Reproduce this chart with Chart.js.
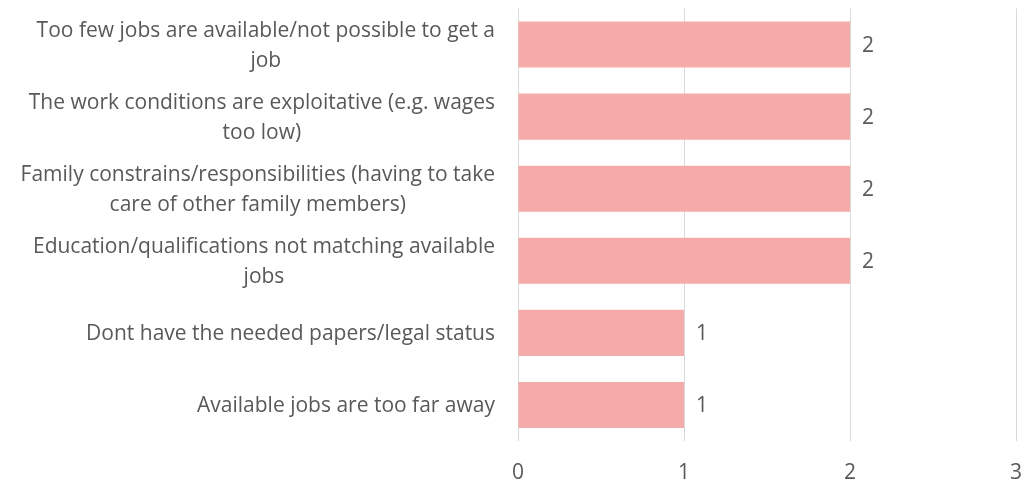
<!DOCTYPE html>
<html>
<head>
<meta charset="utf-8">
<script src="https://cdn.jsdelivr.net/npm/chart.js@4.4.1/dist/chart.umd.min.js"></script>
<style>
  html, body { margin: 0; padding: 0; background: #ffffff; }
  #wrap { width: 1033px; height: 483px; position: relative; }
</style>
</head>
<body>
<div id="wrap"><canvas id="chart"></canvas></div>
<script>
// Categories (each entry = wrapped lines) and values
const categories = [
    ['Too few jobs are available/not possible to get a', 'job'],
    ['The work conditions are exploitative (e.g. wages', 'too low)'],
    ['Family constrains/responsibilities (having to take', 'care of other family members)'],
    ['Education/qualifications not matching available', 'jobs'],
    ['Dont have the needed papers/legal status'],
    ['Available jobs are too far away']
];
const counts = [2, 2, 2, 2, 1, 1];
const xTicks = [0, 1, 2, 3];

const FONT = '"Open Sans", "Noto Sans", sans-serif';
const TEXT_COLOR = '#595959';
const FONT_SIZE = 21;
const LINE_HEIGHT = 30;

// category labels: block right-aligned, lines centered within block
const categoryLabels = {
    id: 'categoryLabels',
    afterDraw(chart) {
        const ctx = chart.ctx;
        const yScale = chart.scales.y;
        const rightEdge = chart.chartArea.left - 23;
        ctx.save();
        ctx.font = FONT_SIZE + 'px ' + FONT;
        ctx.fillStyle = TEXT_COLOR;
        ctx.textAlign = 'center';
        ctx.textBaseline = 'middle';
        categories.forEach((lines, i) => {
            const yc = yScale.getPixelForTick(i) + 1.5;
            const widest = Math.max(...lines.map(l => ctx.measureText(l).width));
            const xc = rightEdge - widest / 2;
            const top = yc - (lines.length - 1) * LINE_HEIGHT / 2;
            lines.forEach((line, j) => {
                ctx.fillText(line, xc, top + j * LINE_HEIGHT);
            });
        });
        ctx.restore();
    }
};

// value labels at bar ends
const valueLabels = {
    id: 'valueLabels',
    afterDatasetsDraw(chart) {
        const ctx = chart.ctx;
        const meta = chart.getDatasetMeta(0);
        ctx.save();
        ctx.font = FONT_SIZE + 'px ' + FONT;
        ctx.fillStyle = TEXT_COLOR;
        ctx.textAlign = 'left';
        ctx.textBaseline = 'middle';
        meta.data.forEach((bar, i) => {
            ctx.fillText(String(counts[i]), bar.x + 12, bar.y + 1.5);
        });
        ctx.restore();
    }
};

new Chart(document.getElementById('chart'), {
    type: 'bar',
    data: {
        labels: categories.map(c => c.join(' ')),
        datasets: [{
            data: counts,
            backgroundColor: '#f5abaa',
            borderWidth: 0,
            categoryPercentage: 1,
            barPercentage: 0.64
        }]
    },
    options: {
        indexAxis: 'y',
        responsive: true,
        maintainAspectRatio: false,
        animation: false,
        layout: {
            padding: { top: 8.5, right: 17, bottom: 0, left: 0 }
        },
        plugins: {
            legend: { display: false },
            tooltip: { enabled: false }
        },
        scales: {
            x: {
                min: xTicks[0],
                max: xTicks[xTicks.length - 1],
                afterBuildTicks(scale) {
                    scale.ticks = xTicks.map(v => ({ value: v }));
                },
                grid: {
                    color: '#d9d9d9',
                    lineWidth: 1,
                    drawTicks: false
                },
                border: { display: false },
                ticks: {
                    color: TEXT_COLOR,
                    font: { family: FONT, size: FONT_SIZE },
                    padding: 19
                },
                afterFit(scale) {
                    scale.height = 42;
                    scale.paddingLeft = 0;
                    scale.paddingRight = 0;
                }
            },
            y: {
                grid: { display: false, drawTicks: false },
                border: { display: false },
                ticks: { display: false },
                afterFit(scale) {
                    scale.width = 518;
                }
            }
        }
    },
    plugins: [categoryLabels, valueLabels]
});
</script>
</body>
</html>
